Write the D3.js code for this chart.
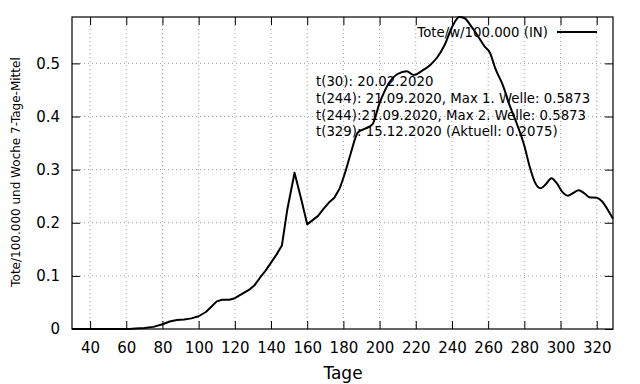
<!DOCTYPE html>
<html>
<head>
<meta charset="utf-8">
<script src="https://cdn.jsdelivr.net/npm/d3@7"></script>
<style>
  body { margin: 0; background: #fff; }
  svg text { font-family: "DejaVu Sans", sans-serif; fill: #000; }
</style>
</head>
<body>
<div class="chart"></div>
<script>
var svgWidth = 640;
var svgHeight = 384;

var margin = { top: 17, right: 27, bottom: 55, left: 72 };
var width = svgWidth - margin.left - margin.right;
var height = svgHeight - margin.top - margin.bottom;

// data (day, deaths per 100.000, 7-day mean)
var days = [30, 40, 50, 60, 62, 65, 70, 75, 80, 84, 88, 92, 96, 100, 104, 107, 110, 113, 117, 120,
    124, 128, 131, 134, 137, 140, 143, 146, 149, 153, 157, 160, 163, 166, 169, 172, 175, 178,
    181, 184, 188, 192, 196, 200, 205, 210, 215, 219, 223, 228, 232, 236, 240, 244, 247, 250,
    254, 258, 261, 264, 268, 272, 276, 280, 283, 286, 289, 292, 295, 298, 301, 304, 307, 310,
    313, 316, 320, 323, 326, 329];
var values = [0, 0, 0, 0, 0, 0.001, 0.002, 0.004, 0.009, 0.014, 0.017, 0.018, 0.02, 0.024, 0.032, 0.042, 0.052, 0.055, 0.055, 0.058,
    0.066, 0.074, 0.083, 0.097, 0.11, 0.125, 0.14, 0.157, 0.225, 0.294, 0.24, 0.197, 0.205, 0.213, 0.226, 0.238, 0.247, 0.265,
    0.295, 0.33, 0.37, 0.377, 0.385, 0.425, 0.462, 0.48, 0.485, 0.478, 0.485, 0.497, 0.512, 0.535, 0.568, 0.5873, 0.585, 0.573,
    0.553, 0.532, 0.52, 0.49, 0.46, 0.42, 0.385, 0.345, 0.305, 0.275, 0.265, 0.273, 0.284, 0.274, 0.258, 0.251, 0.256, 0.261,
    0.256, 0.248, 0.247, 0.24, 0.225, 0.2075];

var xTicks = [40, 60, 80, 100, 120, 140, 160, 180, 200, 220, 240, 260, 280, 300, 320];
var yTicks = [0, 0.1, 0.2, 0.3, 0.4, 0.5];
var yTickLabels = ["0", "0.1", "0.2", "0.3", "0.4", "0.5"];

var legendLabel = "Tote/w/100.000 (IN)";
var notes = [
    "t(30): 20.02.2020",
    "t(244): 21.09.2020, Max 1. Welle: 0.5873",
    "t(244):21.09.2020, Max 2. Welle: 0.5873",
    "t(329): 15.12.2020 (Aktuell: 0.2075)"
];

var data = days.map((d, i) => ({ day: d, value: values[i] }));

var svg = d3.select(".chart")
    .append("svg")
    .attr("width", svgWidth)
    .attr("height", svgHeight);

var chartGroup = svg.append("g")
    .attr("transform", `translate(${margin.left}, ${margin.top})`);

var xScale = d3.scaleLinear().domain([30, 329]).range([0, width]);
var yScale = d3.scaleLinear().domain([0, 0.5873]).range([height, 0]);

// grid
chartGroup.append("g")
    .selectAll("line")
    .data(xTicks)
    .enter()
    .append("line")
    .attr("x1", d => xScale(d)).attr("x2", d => xScale(d))
    .attr("y1", 0).attr("y2", height)
    .attr("stroke", "#a0a0a0")
    .attr("stroke-dasharray", "1,3");

chartGroup.append("g")
    .selectAll("line")
    .data(yTicks.slice(1))
    .enter()
    .append("line")
    .attr("x1", 0).attr("x2", width)
    .attr("y1", d => yScale(d)).attr("y2", d => yScale(d))
    .attr("stroke", "#a0a0a0")
    .attr("stroke-dasharray", "1,3");

// axes (ticks inward, mirrored)
var bottomAxis = d3.axisBottom(xScale).tickValues(xTicks).tickSizeInner(-8).tickSizeOuter(0).tickPadding(13);
var topAxis = d3.axisTop(xScale).tickValues(xTicks).tickSizeInner(-8).tickSizeOuter(0).tickFormat("");
var leftAxis = d3.axisLeft(yScale).tickValues(yTicks).tickSizeInner(-8).tickSizeOuter(0).tickPadding(12)
    .tickFormat((d, i) => yTickLabels[i]);
var rightAxis = d3.axisRight(yScale).tickValues(yTicks).tickSizeInner(-8).tickSizeOuter(0).tickFormat("");

chartGroup.append("g").attr("transform", `translate(0, ${height})`).call(bottomAxis);
chartGroup.append("g").call(topAxis);
chartGroup.append("g").call(leftAxis);
chartGroup.append("g").attr("transform", `translate(${width}, 0)`).call(rightAxis);

chartGroup.selectAll(".domain").remove();
chartGroup.selectAll(".tick line").attr("stroke", "#000");
chartGroup.selectAll(".tick text").style("font-size", "15px");

chartGroup.append("rect")
    .attr("width", width)
    .attr("height", height)
    .attr("fill", "none")
    .attr("stroke", "#000")
    .attr("stroke-width", 1.2);

// line: first wave drawn with straight segments, second wave smoothed
var linearLine = d3.line()
    .x(d => xScale(d.day))
    .y(d => yScale(d.value));

var smoothLine = d3.line()
    .x(d => xScale(d.day))
    .y(d => yScale(d.value))
    .curve(d3.curveMonotoneX);

chartGroup.append("path")
    .datum(data.filter(d => d.day <= 178))
    .attr("d", linearLine)
    .attr("fill", "none")
    .attr("stroke", "#000")
    .attr("stroke-width", 2)
    .attr("stroke-linejoin", "round");

chartGroup.append("path")
    .datum(data.filter(d => d.day >= 178))
    .attr("d", smoothLine)
    .attr("fill", "none")
    .attr("stroke", "#000")
    .attr("stroke-width", 2)
    .attr("stroke-linejoin", "round");

// legend
chartGroup.append("text")
    .attr("x", 548 - margin.left)
    .attr("y", 37 - margin.top)
    .attr("text-anchor", "end")
    .style("font-size", "13.3px")
    .text(legendLabel);

chartGroup.append("line")
    .attr("x1", 557 - margin.left).attr("x2", 597 - margin.left)
    .attr("y1", 32 - margin.top).attr("y2", 32 - margin.top)
    .attr("stroke", "#000")
    .attr("stroke-width", 2);

// notes
chartGroup.append("g")
    .selectAll("text")
    .data(notes)
    .enter()
    .append("text")
    .attr("x", 316 - margin.left)
    .attr("y", (d, i) => 86 - margin.top + i * 16.8)
    .style("font-size", "13.3px")
    .text(d => d);

// axis labels
svg.append("text")
    .attr("x", 343)
    .attr("y", 379)
    .attr("text-anchor", "middle")
    .style("font-size", "17px")
    .text("Tage");

svg.append("text")
    .attr("transform", "rotate(-90)")
    .attr("x", -172)
    .attr("y", 20)
    .attr("text-anchor", "middle")
    .style("font-size", "12px")
    .text("Tote/100.000 und Woche 7-Tage-Mittel");
</script>
</body>
</html>
